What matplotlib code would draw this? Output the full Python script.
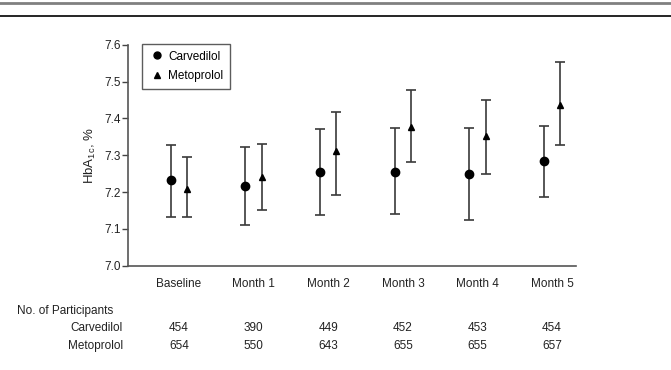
import matplotlib
matplotlib.use("Agg")
import matplotlib.pyplot as plt
from matplotlib.lines import Line2D
from matplotlib.transforms import blended_transform_factory

plt.rcParams['font.family'] = ['Liberation Sans', 'DejaVu Sans']
plt.rcParams['mathtext.default'] = 'regular'

# data
timepoints = ['Baseline', 'Month 1', 'Month 2', 'Month 3', 'Month 4', 'Month 5']
carv_mean = [7.233, 7.217, 7.254, 7.255, 7.249, 7.284]
carv_low = [7.131, 7.111, 7.138, 7.141, 7.123, 7.186]
carv_high = [7.329, 7.323, 7.371, 7.373, 7.373, 7.380]
meto_mean = [7.207, 7.240, 7.312, 7.376, 7.352, 7.437]
meto_low = [7.131, 7.151, 7.191, 7.281, 7.248, 7.329]
meto_high = [7.295, 7.331, 7.418, 7.477, 7.450, 7.553]
carv_n = [454, 390, 449, 452, 453, 454]
meto_n = [654, 550, 643, 655, 655, 657]

W, H = 671, 370
FS = 8.5
TXT = '#222222'
fig = plt.figure(figsize=(W / 100, H / 100), dpi=100)

# header rules at top of figure
fig.add_artist(Line2D([0, 1], [1 - 3 / H] * 2, color='#808080', lw=2))
fig.add_artist(Line2D([0, 1], [1 - 16 / H] * 2, color='black', lw=1.2))

ax = fig.add_axes([128 / W, 1 - 265.7 / H, 448 / W, 221 / H])

x = list(range(len(timepoints)))
off = 0.11
err_col = '#3a3a3a'

xc = [i - off for i in x]
ax.errorbar(xc, carv_mean,
            yerr=[[m - l for m, l in zip(carv_mean, carv_low)],
                  [h - m for m, h in zip(carv_mean, carv_high)]],
            fmt='o', color='black', ms=6, ecolor=err_col, elinewidth=1.2,
            capsize=3.8, capthick=1.2, zorder=3)

xm = [i + off for i in x]
ax.errorbar(xm, meto_mean,
            yerr=[[m - l for m, l in zip(meto_mean, meto_low)],
                  [h - m for m, h in zip(meto_mean, meto_high)]],
            fmt='^', color='black', ms=5, ecolor=err_col, elinewidth=1.2,
            capsize=3.8, capthick=1.2, zorder=3)

ax.set_xlim(-0.684, 5.32)
ax.set_ylim(7.0, 7.6)
ax.set_yticks([7.0, 7.1, 7.2, 7.3, 7.4, 7.5, 7.6])
ax.set_yticklabels(['7.0', '7.1', '7.2', '7.3', '7.4', '7.5', '7.6'])
ax.set_xticks(x)
ax.set_xticklabels(timepoints)
ax.tick_params(axis='x', length=0, pad=9, labelsize=FS, colors=TXT)
ax.tick_params(axis='y', length=4, width=1, pad=1, labelsize=FS,
               colors='#444444', labelcolor=TXT)

for s in ['top', 'right']:
    ax.spines[s].set_visible(False)
for s in ['left', 'bottom']:
    ax.spines[s].set_color('#555555')
    ax.spines[s].set_linewidth(1.2)

ax.set_ylabel('HbA$_{1c}$, %', fontsize=9.5, labelpad=5, color=TXT)

handles = [Line2D([], [], ls='none', marker='o', color='black', ms=5),
           Line2D([], [], ls='none', marker='^', color='black', ms=4.5)]
leg = ax.legend(handles, ['Carvedilol', 'Metoprolol'], loc='upper left',
                bbox_to_anchor=(142 / W, 1 - 43.5 / H),
                bbox_transform=fig.transFigure, fontsize=FS, frameon=True,
                fancybox=False, edgecolor='#333333', borderpad=0.6,
                handletextpad=0.3, handlelength=1.3, labelspacing=0.6,
                borderaxespad=0)
leg.get_frame().set_linewidth(1.0)

# participant counts table below the plot
tr = blended_transform_factory(ax.transData, fig.transFigure)
fig.text(17 / W, 1 - 311 / H, 'No. of Participants', fontsize=FS,
         ha='left', va='center', color=TXT)
fig.text(123 / W, 1 - 328 / H, 'Carvedilol', fontsize=FS,
         ha='right', va='center', color=TXT)
fig.text(123 / W, 1 - 346 / H, 'Metoprolol', fontsize=FS,
         ha='right', va='center', color=TXT)
for i, (c, m) in enumerate(zip(carv_n, meto_n)):
    ax.text(i, 1 - 328 / H, str(c), transform=tr, fontsize=FS,
            ha='center', va='center', color=TXT)
    ax.text(i, 1 - 346 / H, str(m), transform=tr, fontsize=FS,
            ha='center', va='center', color=TXT)

fig.savefig('out.png', dpi=100)
